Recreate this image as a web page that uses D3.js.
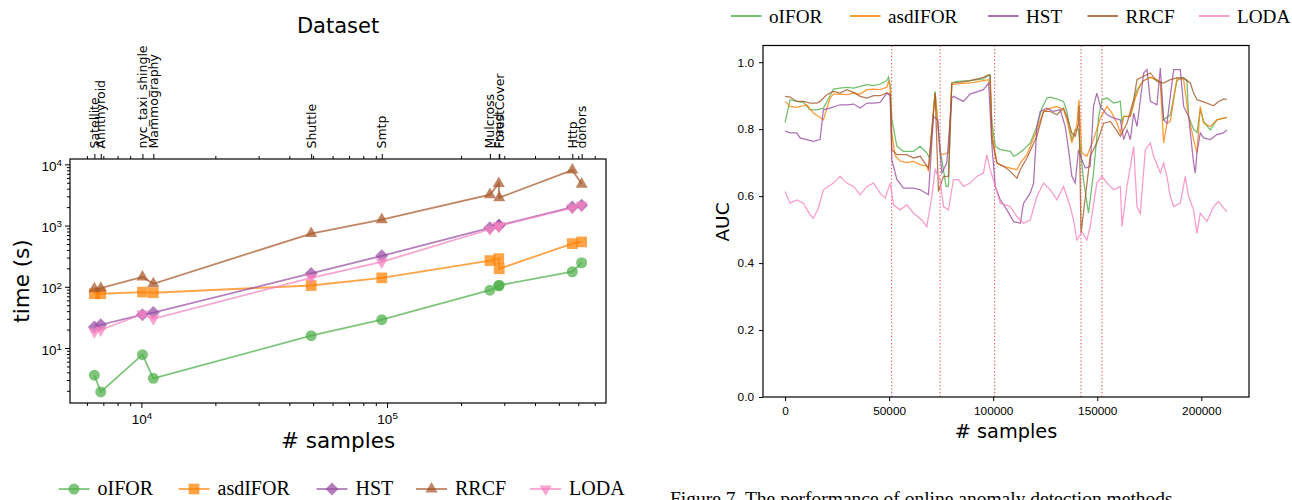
<!DOCTYPE html>
<html>
<head>
<meta charset="utf-8">
<script src="https://cdn.jsdelivr.net/npm/d3@7"></script>
<style>
  body { margin: 0; background: #fff; }
  svg { display: block; font-family: "DejaVu Sans", sans-serif; }
  .serif { font-family: "Liberation Serif", "Times New Roman", serif; }
</style>
</head>
<body>
<svg id="fig" width="1292" height="500"></svg>
<script>
// ---------- data ----------
const methods = ["oIFOR", "asdIFOR", "HST", "RRCF", "LODA"];
const colors = ["#4daf4a", "#ff7f00", "#984ea3", "#a65628", "#f781bf"];

// left panel: running time per dataset
const datasetNames = ["Satellite", "Annthyroid", "nyc_taxi_shingle", "Mammography", "Shuttle", "Smtp",
                      "Mulcross", "Fraud", "ForestCover", "Http", "donors"];
const datasetSizes = [6435, 6832, 10100, 11183, 49097, 95156, 262144, 284807, 286048, 567498, 619326];
const timeOIFOR   = [3.6, 1.92, 7.8, 3.2, 15.9, 29, 88, 104, 106, 176, 247];
const timeAsdIFOR = [77, 77, 82, 80, 105, 140, 268, 288, 197, 507, 541];
const timeHST     = [22, 24, 35, 38, 165, 320, 920, 1000, 1010, 2000, 2150];
const timeRRCF    = [93, 95, 145, 112, 740, 1250, 3200, 4850, 2850, 8050, 4750];
const timeLODA    = [18.5, 19.7, 36, 30, 140, 255, 870, 970, 990, 1950, 2150];

// right panel: AUC along the stream, [sample, auc]
const aucOIFOR = [[0,0.82],[2400,0.888],[5600,0.883],[8800,0.88],[12000,0.858],[15200,0.858],[18400,0.863],
  [21600,0.9],[23200,0.92],[26400,0.923],[29600,0.925],[32900,0.923],[36100,0.928],[39300,0.933],[42500,0.93],
  [45700,0.935],[48900,0.945],[49700,0.956],[50500,0.93],[51300,0.83],[53700,0.749],[56900,0.734],[61700,0.734],
  [64900,0.749],[68100,0.729],[69400,0.714],[72100,0.913],[74500,0.739],[77400,0.629],[78500,0.63],[80100,0.938],
  [82500,0.943],[88900,0.945],[95300,0.95],[98300,0.963],[99400,0.818],[101000,0.749],[103400,0.739],[108200,0.734],
  [109800,0.719],[111400,0.724],[114600,0.739],[117800,0.759],[121000,0.808],[123400,0.863],[125800,0.893],
  [127400,0.896],[130600,0.89],[133800,0.883],[135400,0.853],[137800,0.769],[139400,0.798],[141000,0.8],
  [143400,0.647],[145800,0.549],[148200,0.669],[150700,0.838],[152300,0.888],[154700,0.893],[157900,0.878],
  [161100,0.883],[161900,0.818],[162700,0.838],[165900,0.838],[167500,0.883],[169100,0.918],[172300,0.945],
  [175500,0.955],[178700,0.945],[180300,0.943],[181900,0.828],[185100,0.843],[188300,0.945],[190700,0.955],
  [193100,0.945],[193900,0.838],[196300,0.8],[197900,0.79],[199500,0.858],[201100,0.823],[204300,0.798],
  [207500,0.828],[210700,0.833],[212300,0.835]];
const aucAsdIFOR = [[0,0.883],[2400,0.868],[5600,0.865],[8800,0.87],[10400,0.873],[13600,0.848],[16800,0.835],
  [18400,0.828],[21600,0.893],[23200,0.905],[26400,0.905],[29600,0.903],[32900,0.908],[36100,0.905],[39300,0.918],
  [42500,0.92],[45700,0.918],[48900,0.925],[49700,0.943],[50500,0.925],[51300,0.788],[52900,0.72],[55300,0.705],
  [58500,0.7],[61700,0.704],[64900,0.694],[68100,0.69],[68900,0.674],[72100,0.908],[74500,0.729],[76100,0.724],
  [78500,0.73],[80100,0.933],[82500,0.935],[88900,0.938],[95300,0.945],[97800,0.948],[98600,0.93],[99400,0.788],
  [101800,0.699],[105000,0.689],[108200,0.684],[111400,0.679],[113000,0.699],[116200,0.724],[121000,0.798],
  [124200,0.853],[127400,0.863],[130600,0.868],[133800,0.858],[135400,0.828],[137800,0.759],[140200,0.813],
  [141200,0.888],[142600,0.729],[145000,0.719],[148200,0.769],[151500,0.833],[154700,0.868],[157100,0.848],
  [159500,0.818],[161100,0.789],[162700,0.838],[165900,0.838],[168300,0.893],[170700,0.933],[172300,0.945],
  [175500,0.955],[178700,0.948],[180300,0.938],[181900,0.759],[183500,0.818],[185100,0.823],[188300,0.953],
  [191500,0.948],[193900,0.838],[196300,0.769],[197900,0.729],[199500,0.868],[201100,0.818],[204300,0.808],
  [207500,0.828],[212300,0.835]];
const aucHST = [[0,0.794],[2400,0.789],[5600,0.789],[7200,0.774],[10400,0.769],[13600,0.764],[16800,0.769],
  [18400,0.858],[21600,0.863],[26400,0.873],[29600,0.873],[32900,0.875],[36100,0.863],[39300,0.878],[42500,0.878],
  [45700,0.88],[48900,0.908],[50500,0.9],[51300,0.709],[53700,0.65],[56900,0.624],[61700,0.624],[64900,0.619],
  [68900,0.604],[71300,0.838],[73300,0.828],[75300,0.669],[77700,0.699],[80100,0.893],[80900,0.898],[85700,0.883],
  [88900,0.905],[95300,0.918],[97800,0.938],[99400,0.749],[101000,0.629],[103400,0.589],[106600,0.559],
  [109800,0.524],[113000,0.519],[114600,0.579],[117800,0.609],[119400,0.639],[121000,0.808],[122600,0.853],
  [125800,0.863],[129000,0.853],[132200,0.858],[134600,0.808],[136200,0.739],[137800,0.659],[139400,0.639],
  [141000,0.739],[142600,0.709],[144200,0.684],[146600,0.689],[148200,0.868],[149800,0.908],[151500,0.868],
  [154700,0.843],[157900,0.833],[161100,0.828],[162700,0.769],[164300,0.798],[165900,0.769],[167500,0.848],
  [169100,0.808],[172300,0.968],[173900,0.978],[175500,0.883],[178700,0.873],[180300,0.983],[181900,0.828],
  [183500,0.818],[186700,0.978],[189900,0.978],[191500,0.868],[193900,0.838],[196300,0.699],[197100,0.669],
  [197900,0.729],[199500,0.789],[201100,0.774],[204300,0.769],[207500,0.784],[210700,0.789],[212300,0.798]];
const aucRRCF = [[0,0.898],[2400,0.896],[5600,0.883],[8800,0.883],[12000,0.878],[15200,0.878],[16800,0.883],
  [20000,0.903],[23200,0.913],[26400,0.908],[29600,0.918],[32900,0.91],[36100,0.898],[39300,0.893],[42500,0.9],
  [45700,0.9],[48900,0.908],[50500,0.905],[51300,0.739],[53700,0.724],[58500,0.724],[61700,0.714],[64900,0.719],
  [68900,0.684],[72100,0.908],[73700,0.614],[76100,0.659],[78500,0.659],[80100,0.938],[84100,0.94],[88900,0.945],
  [95300,0.955],[97800,0.963],[98600,0.96],[99400,0.769],[101800,0.699],[105000,0.689],[108200,0.674],
  [111400,0.654],[113000,0.679],[116200,0.714],[121000,0.779],[124200,0.853],[127400,0.853],[130600,0.843],
  [133800,0.863],[135400,0.838],[137800,0.789],[139400,0.779],[141000,0.818],[141200,0.87],[142200,0.489],
  [146600,0.719],[149800,0.759],[153100,0.818],[156300,0.823],[159500,0.794],[161100,0.779],[164300,0.818],
  [167500,0.888],[169100,0.948],[172300,0.958],[175500,0.968],[178700,0.943],[181900,0.938],[185100,0.948],
  [188300,0.953],[191500,0.953],[194700,0.938],[196300,0.908],[197900,0.888],[200300,0.883],[202700,0.878],
  [205900,0.87],[208300,0.883],[210700,0.89],[212300,0.89]];
const aucLODA = [[0,0.614],[2400,0.579],[5600,0.589],[8800,0.579],[12000,0.544],[13600,0.534],[16000,0.564],
  [18400,0.619],[23200,0.639],[26400,0.659],[29600,0.639],[32900,0.629],[36100,0.604],[39300,0.629],[42500,0.639],
  [45700,0.609],[48100,0.594],[50500,0.639],[52100,0.574],[55300,0.559],[58500,0.574],[61700,0.549],[65700,0.529],
  [68100,0.509],[70500,0.599],[72100,0.679],[74500,0.649],[76100,0.569],[78500,0.559],[80900,0.649],[83300,0.65],
  [85700,0.629],[88900,0.639],[92100,0.659],[95300,0.669],[96900,0.723],[98600,0.679],[101000,0.629],
  [103400,0.579],[108200,0.569],[111400,0.539],[114600,0.519],[117800,0.529],[121000,0.599],[124200,0.639],
  [127400,0.619],[130600,0.589],[133800,0.629],[137000,0.569],[138600,0.529],[140200,0.469],[142600,0.494],
  [145000,0.469],[146600,0.509],[149800,0.639],[152300,0.659],[154700,0.639],[157900,0.619],[161100,0.629],
  [161900,0.509],[164300,0.629],[166700,0.718],[167500,0.749],[169100,0.569],[170700,0.548],[173100,0.738],
  [175500,0.759],[177100,0.719],[180300,0.669],[181900,0.699],[183500,0.659],[185100,0.599],[186700,0.569],
  [189900,0.579],[192300,0.659],[193900,0.599],[196300,0.559],[197900,0.489],[199500,0.549],[202700,0.524],
  [205900,0.569],[208300,0.584],[210700,0.564],[212300,0.554]];
const streamBreaks = [51200, 74500, 100700, 142200, 152300];
const aucTicks = [0, 0.2, 0.4, 0.6, 0.8, 1.0];
const sampleTicks = [0, 50000, 100000, 150000, 200000];

const timeSeries = [timeOIFOR, timeAsdIFOR, timeHST, timeRRCF, timeLODA];
const aucSeries = [aucOIFOR, aucAsdIFOR, aucHST, aucRRCF, aucLODA];

// ---------- helpers ----------
const svg = d3.select("#fig");

function logPad(vals, f) {
  const lo = Math.log10(d3.min(vals)), hi = Math.log10(d3.max(vals)), p = (hi - lo) * f;
  return [Math.pow(10, lo - p), Math.pow(10, hi + p)];
}
function minorTicks(dom) {
  const out = [];
  for (let e = Math.floor(Math.log10(dom[0])); e <= Math.ceil(Math.log10(dom[1])); e++)
    for (let k = 2; k <= 9; k++) {
      const v = k * Math.pow(10, e);
      if (v >= dom[0] && v <= dom[1]) out.push(v);
    }
  return out;
}
function powLabels(g, fs) {
  g.selectAll(".tick text").each(function(d) {
    const t = d3.select(this).text(null).style("font-size", fs + "px");
    t.append("tspan").text("10");
    t.append("tspan").attr("dy", "-0.48em").style("font-size", (fs * 0.72) + "px").text(Math.round(Math.log10(d)));
  });
}
const markerFor = [
  d3.symbol().type(d3.symbolCircle).size(95),
  d3.symbol().type(d3.symbolSquare).size(115),
  d3.symbol().type(d3.symbolSquare).size(85),
  d3.symbol().type(d3.symbolTriangle).size(64),
  d3.symbol().type(d3.symbolTriangle).size(64)
];
const markerRot = [0, 0, 45, 0, 180];

// ---------- left panel ----------
const L = {left: 70, right: 606, top: 159, bottom: 403};
const xL = d3.scaleLog().domain(logPad(datasetSizes, 0.05)).range([L.left, L.right]);
const yL = d3.scaleLog().domain(logPad(timeSeries.flat(), 0.05)).range([L.bottom, L.top]);

const gl = svg.append("g");

// bottom axis
gl.append("g").attr("transform", `translate(0,${L.bottom})`)
  .call(d3.axisBottom(xL).tickValues(minorTicks(xL.domain())).tickSize(3).tickFormat(""))
  .call(g => g.select(".domain").remove());
gl.append("g").attr("transform", `translate(0,${L.bottom})`)
  .call(d3.axisBottom(xL).tickValues([1e4, 1e5]).tickSize(5).tickPadding(6).tickFormat(d => d))
  .call(g => g.select(".domain").remove())
  .call(g => powLabels(g, 13.5));

// left axis
gl.append("g").attr("transform", `translate(${L.left},0)`)
  .call(d3.axisLeft(yL).tickValues(minorTicks(yL.domain())).tickSize(3).tickFormat(""))
  .call(g => g.select(".domain").remove());
gl.append("g").attr("transform", `translate(${L.left},0)`)
  .call(d3.axisLeft(yL).tickValues([10, 100, 1000, 10000]).tickSize(5).tickPadding(3).tickFormat(d => d))
  .call(g => g.select(".domain").remove())
  .call(g => powLabels(g, 13.5))
  .call(g => g.selectAll(".tick text").attr("dy", "0.45em"));

// top axis: dataset names
gl.append("g").attr("transform", `translate(0,${L.top})`)
  .call(d3.axisTop(xL).tickValues(minorTicks(xL.domain())).tickSize(3).tickFormat(""))
  .call(g => g.select(".domain").remove());
gl.append("g").attr("transform", `translate(0,${L.top})`)
  .call(d3.axisTop(xL).tickValues(datasetSizes).tickSize(5).tickFormat(""))
  .call(g => g.select(".domain").remove());
gl.selectAll(".dsname").data(datasetNames).join("text")
  .attr("class", "dsname")
  .attr("transform", (d, i) => `translate(${xL(datasetSizes[i])},148.5) rotate(-90)`)
  .attr("dominant-baseline", "central")
  .attr("font-size", 12.5)
  .text(d => d);

gl.append("text").attr("x", (L.left + L.right) / 2).attr("y", 33).attr("text-anchor", "middle")
  .attr("font-size", 21).text("Dataset");
gl.append("text").attr("x", (L.left + L.right) / 2).attr("y", 448).attr("text-anchor", "middle")
  .attr("font-size", 21.5).text("# samples");
gl.append("text").attr("transform", `translate(29,281) rotate(-90)`).attr("text-anchor", "middle")
  .attr("font-size", 21.5).text("time (s)");

// series
const lineL = d3.line().x((d, i) => xL(datasetSizes[i])).y(d => yL(d));
timeSeries.forEach((vals, s) => {
  const g = gl.append("g");
  g.append("path").attr("d", lineL(vals)).attr("fill", "none")
    .attr("stroke", colors[s]).attr("stroke-width", 1.8).attr("opacity", 0.72);
  g.selectAll("path.m").data(vals).join("path").attr("class", "m")
    .attr("d", markerFor[s])
    .attr("transform", (d, i) => `translate(${xL(datasetSizes[i])},${yL(d)}) rotate(${markerRot[s]})`)
    .attr("fill", colors[s]).attr("opacity", 0.72);
});

gl.append("rect").attr("x", L.left).attr("y", L.top)
  .attr("width", L.right - L.left).attr("height", L.bottom - L.top)
  .attr("fill", "none").attr("stroke", "#000").attr("stroke-width", 1.2);

// left legend (below panel)
const legL = [74, 194, 332, 431.5, 545.6];
methods.forEach((m, s) => {
  const g = gl.append("g").attr("transform", `translate(${legL[s]},489)`);
  g.append("line").attr("x1", -15.5).attr("x2", 15.5).attr("stroke", colors[s])
    .attr("stroke-width", 1.8).attr("opacity", 0.72);
  g.append("path").attr("d", markerFor[s]).attr("transform", `rotate(${markerRot[s]})`)
    .attr("fill", colors[s]).attr("opacity", 0.72);
  g.append("text").attr("class", "serif").attr("x", 23.5).attr("y", 6.3)
    .attr("font-size", 20).text(m);
});

// ---------- right panel ----------
const R = {left: 763, right: 1249, top: 45.5, bottom: 397};
const allX = aucSeries.flat().map(d => d[0]);
const xPad = (d3.max(allX) - d3.min(allX)) * 0.05;
const xR = d3.scaleLinear().domain([d3.min(allX) - xPad, d3.max(allX) + xPad]).range([R.left, R.right]);
const yR = d3.scaleLinear().domain([0, 1.05]).range([R.bottom, R.top]);

const gr = svg.append("g");
gr.append("g").attr("transform", `translate(0,${R.bottom})`)
  .call(d3.axisBottom(xR).tickValues(sampleTicks).tickSize(4).tickPadding(5.5).tickFormat(d => d))
  .call(g => g.select(".domain").remove())
  .call(g => g.selectAll(".tick text").attr("font-size", 11.8));
gr.append("g").attr("transform", `translate(${R.left},0)`)
  .call(d3.axisLeft(yR).tickValues(aucTicks).tickSize(4).tickPadding(5).tickFormat(d3.format(".1f")))
  .call(g => g.select(".domain").remove())
  .call(g => g.selectAll(".tick text").attr("font-size", 11.8));

gr.selectAll(".brk").data(streamBreaks).join("line").attr("class", "brk")
  .attr("x1", d => xR(d)).attr("x2", d => xR(d)).attr("y1", R.top).attr("y2", R.bottom)
  .attr("stroke", "#e8202a").attr("stroke-width", 1).attr("stroke-dasharray", "1.3,2.2").attr("opacity", 0.85);

const lineR = d3.line().x(d => xR(d[0])).y(d => yR(d[1]));
aucSeries.forEach((pts, s) => {
  gr.append("path").attr("d", lineR(pts)).attr("fill", "none")
    .attr("stroke", colors[s]).attr("stroke-width", 1.25).attr("opacity", 0.8);
});

gr.append("rect").attr("x", R.left).attr("y", R.top)
  .attr("width", R.right - R.left).attr("height", R.bottom - R.top)
  .attr("fill", "none").attr("stroke", "#000").attr("stroke-width", 1.2);

gr.append("text").attr("x", (R.left + R.right) / 2).attr("y", 438).attr("text-anchor", "middle")
  .attr("font-size", 19.3).text("# samples");
gr.append("text").attr("transform", `translate(728.5,222) rotate(-90)`).attr("text-anchor", "middle")
  .attr("font-size", 18.5).text("AUC");

// right legend (above panel)
const legR = [731, 850, 988, 1087.5, 1199];
methods.forEach((m, s) => {
  const g = gr.append("g").attr("transform", `translate(${legR[s]},16)`);
  g.append("line").attr("x1", 0).attr("x2", 30.5).attr("stroke", colors[s])
    .attr("stroke-width", 2).attr("opacity", 0.8);
  g.append("text").attr("class", "serif").attr("x", 38).attr("y", 6.6)
    .attr("font-size", 19.2).text(m);
});

// caption, partly below the bottom edge as in the source figure
svg.append("text").attr("class", "serif").attr("x", 670).attr("y", 505)
  .attr("font-size", 19.5).text("Figure 7. The performance of online anomaly detection methods");
</script>
</body>
</html>
